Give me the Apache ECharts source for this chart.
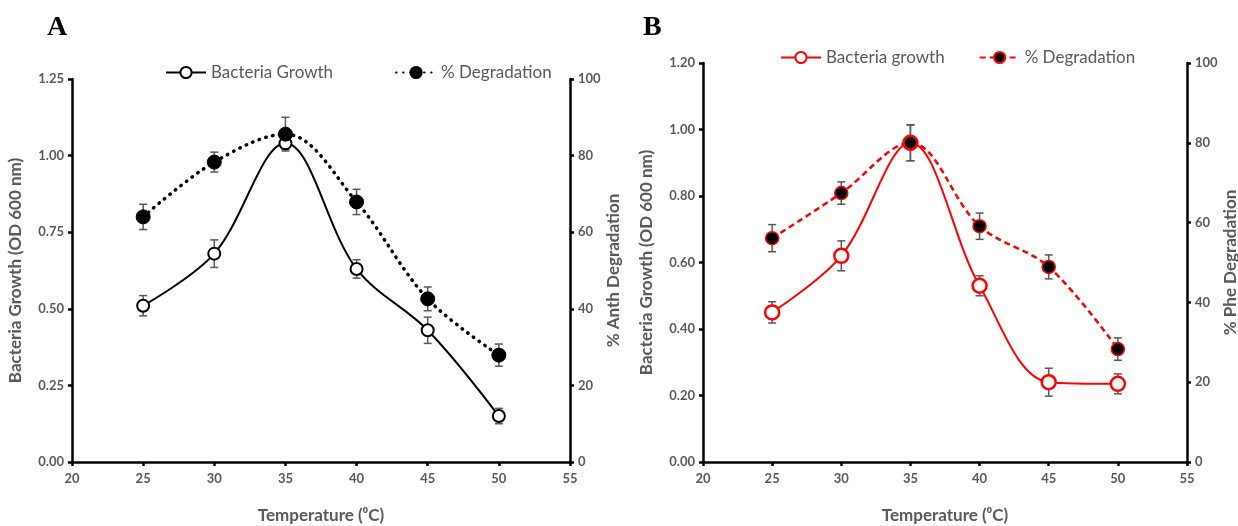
<!DOCTYPE html>
<html>
<head>
<meta charset="utf-8">
<script src="https://cdn.jsdelivr.net/npm/echarts@6/dist/echarts.min.js"></script>
<style>
  html, body { margin: 0; padding: 0; background: #fff; }
  #main { width: 1238px; height: 526px; }
</style>
</head>
<body>
<div id="main"></div>
<script>
// temperatures (°C)
var temps = [25, 30, 35, 40, 45, 50];

// panel A - anthracene
var growthA = [0.51, 0.68, 1.04, 0.63, 0.43, 0.15];
var growthAErr = [0.033, 0.045, 0.02, 0.03, 0.043, 0.025];
var degA = [64.0, 78.3, 85.6, 67.9, 42.6, 27.9];
var degAErr = [3.3, 2.6, 4.4, 3.3, 3.1, 2.9];

// panel B - phenanthrene
var growthB = [0.45, 0.62, 0.96, 0.53, 0.24, 0.235];
var growthBErr = [0.032, 0.045, 0.054, 0.03, 0.042, 0.03];
var degB = [56.1, 67.4, 80.0, 59.1, 48.9, 28.3];
var degBErr = [3.4, 2.8, 4.5, 3.3, 3.0, 2.8];

var font = 'Lato, "Open Sans", sans-serif';
var gray = '#595959';

function pts(ys) {
  var out = [];
  for (var i = 0; i < temps.length; i++) out.push([temps[i], ys[i]]);
  return out;
}
function errPts(ys, es) {
  var out = [];
  for (var i = 0; i < temps.length; i++) out.push([temps[i], ys[i] - es[i], ys[i] + es[i]]);
  return out;
}
function errSeries(ys, es, xi, yi) {
  return {
    type: 'custom',
    xAxisIndex: xi,
    yAxisIndex: yi,
    z: 1,
    silent: true,
    data: errPts(ys, es),
    renderItem: function (params, api) {
      var lo = api.coord([api.value(0), api.value(1)]);
      var hi = api.coord([api.value(0), api.value(2)]);
      var w = 4;
      var st = { stroke: gray, lineWidth: 1.5 };
      return {
        type: 'group',
        children: [
          { type: 'line', shape: { x1: lo[0], y1: lo[1], x2: hi[0], y2: hi[1] }, style: st },
          { type: 'line', shape: { x1: lo[0] - w, y1: lo[1], x2: lo[0] + w, y2: lo[1] }, style: st },
          { type: 'line', shape: { x1: hi[0] - w, y1: hi[1], x2: hi[0] + w, y2: hi[1] }, style: st }
        ]
      };
    }
  };
}

var axisLine = { show: true, lineStyle: { color: '#000', width: 2.5 } };
var axisTick = { show: true, inside: false, length: 4, lineStyle: { color: '#000', width: 2.5 } };
var tickLabel = { color: gray, fontFamily: font, fontWeight: 'bold', fontSize: 13 };
var nameStyle = { color: gray, fontFamily: font, fontWeight: 'bold', fontSize: 17 };

function xAx(gi) {
  return {
    type: 'value', gridIndex: gi, min: 20, max: 55, interval: 5,
    axisLine: axisLine, axisTick: axisTick, splitLine: { show: false },
    axisLabel: Object.assign({ margin: 10 }, tickLabel),
    name: 'Temperature (⁰C)', nameLocation: 'middle', nameGap: 45,
    nameTextStyle: nameStyle
  };
}
function yAx(gi, pos, max, interval, dec, name, gap) {
  return {
    type: 'value', gridIndex: gi, position: pos, min: 0, max: max, interval: interval,
    axisLine: axisLine, axisTick: axisTick, splitLine: { show: false },
    axisLabel: Object.assign({
      margin: 8,
      formatter: function (v) { return v.toFixed(dec); }
    }, tickLabel),
    name: name, nameLocation: 'middle', nameGap: gap, nameRotate: 90,
    nameTextStyle: nameStyle
  };
}

var chart = echarts.init(document.getElementById('main'));
var option = {
  backgroundColor: '#fff',
  animation: false,
  title: [
    { text: 'A', left: 42, top: 9, textStyle: { fontFamily: '"Liberation Serif", serif', fontWeight: 'bold', fontSize: 28, color: '#000' } },
    { text: 'B', left: 638, top: 9, textStyle: { fontFamily: '"Liberation Serif", serif', fontWeight: 'bold', fontSize: 28, color: '#000' } }
  ],
  legend: [
    {
      left: 160, top: 59, itemWidth: 40, itemHeight: 14, itemGap: 62,
      textStyle: { color: gray, fontFamily: font, fontSize: 17 },
      data: ['Bacteria Growth', '% Degradation ']
    },
    {
      left: 775, top: 44, itemWidth: 40, itemHeight: 14, itemGap: 34,
      textStyle: { color: gray, fontFamily: font, fontSize: 17 },
      data: ['Bacteria growth', '% Degradation']
    }
  ],
  grid: [
    { left: 72, right: 668, top: 79, bottom: 64, outerBoundsMode: 'none' },
    { left: 703, right: 51, top: 63, bottom: 64, outerBoundsMode: 'none' }
  ],
  xAxis: [xAx(0), xAx(1)],
  yAxis: [
    yAx(0, 'left', 1.25, 0.25, 2, 'Bacteria Growth (OD 600 nm)', 48),
    yAx(0, 'right', 100, 20, 0, '% Anth Degradation', 34),
    yAx(1, 'left', 1.2, 0.2, 2, 'Bacteria Growth (OD 600 nm)', 48),
    yAx(1, 'right', 100, 20, 0, '% Phe Degradation', 32)
  ],
  series: [
    errSeries(growthA, growthAErr, 0, 0),
    errSeries(degA, degAErr, 0, 1),
    errSeries(growthB, growthBErr, 1, 2),
    errSeries(degB, degBErr, 1, 3),
    {
      name: 'Bacteria Growth', type: 'line', xAxisIndex: 0, yAxisIndex: 0,
      data: pts(growthA), smooth: 0.35, z: 3,
      symbol: 'circle', symbolSize: 12,
      lineStyle: { color: '#000', width: 2 },
      itemStyle: { color: '#fff', borderColor: '#000', borderWidth: 2 }
    },
    {
      name: '% Degradation ', type: 'line', xAxisIndex: 0, yAxisIndex: 1,
      data: pts(degA), smooth: 0.35, z: 3,
      symbol: 'circle', symbolSize: 14,
      lineStyle: { color: '#000', width: 3.5, type: [0.5, 6.5], cap: 'round' },
      itemStyle: { color: '#000', borderColor: '#000', borderWidth: 1 }
    },
    {
      name: 'Bacteria growth', type: 'line', xAxisIndex: 1, yAxisIndex: 2,
      data: pts(growthB), smooth: 0.35, z: 3,
      symbol: 'circle', symbolSize: 14,
      lineStyle: { color: '#ff0000', width: 2 },
      itemStyle: { color: '#fff', borderColor: '#ff0000', borderWidth: 2.5 }
    },
    {
      name: '% Degradation', type: 'line', xAxisIndex: 1, yAxisIndex: 3,
      data: pts(degB), smooth: 0.35, z: 3,
      symbol: 'circle', symbolSize: 13,
      lineStyle: { color: '#ff0000', width: 2.5, type: [6, 4] },
      itemStyle: { color: '#000', borderColor: '#ff0000', borderWidth: 1.5 }
    }
  ]
};
chart.setOption(option);
window.onresize = function () { chart.resize(); };
</script>
</body>
</html>
